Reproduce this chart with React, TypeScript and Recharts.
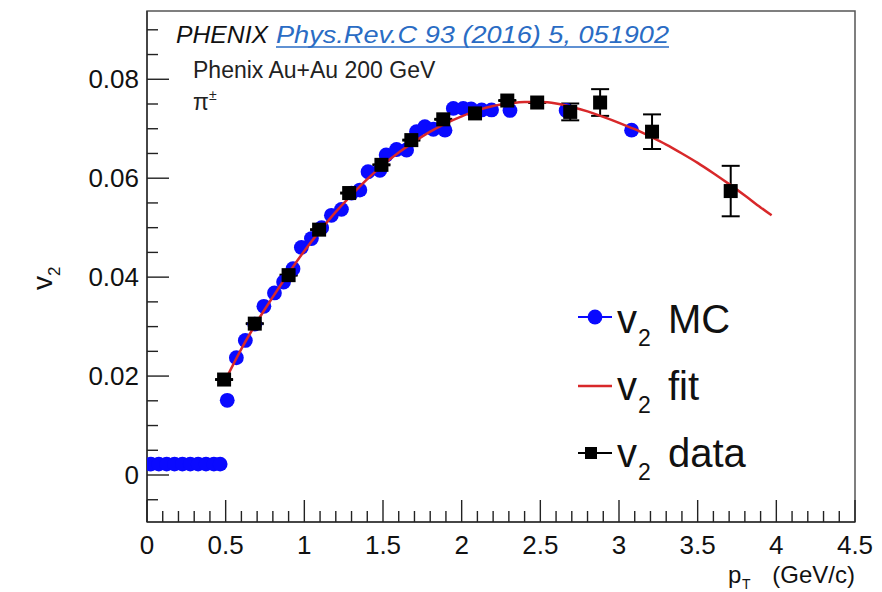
import {
  ComposedChart,
  Scatter,
  XAxis,
  YAxis,
  ErrorBar,
  ReferenceArea,
} from "recharts";

// MC points (pT, v2)
const MC_PT = [
  0.025, 0.075, 0.125, 0.175, 0.225, 0.275, 0.325, 0.375, 0.425, 0.465,
  0.51, 0.568, 0.625, 0.685, 0.743, 0.81, 0.868, 0.928, 0.981, 1.045,
  1.11, 1.172, 1.236, 1.3, 1.353, 1.405, 1.48, 1.52, 1.586, 1.65,
  1.713, 1.766, 1.82, 1.894, 1.947, 2.01, 2.06, 2.127, 2.19, 2.307,
  2.664, 3.08,
];
const MC_V2 = [
  0.0022, 0.0022, 0.0022, 0.0022, 0.0022, 0.0022, 0.0022, 0.0022, 0.0022, 0.0022,
  0.0151, 0.0237, 0.0272, 0.0305, 0.0341, 0.0368, 0.039, 0.0417, 0.046, 0.0478,
  0.05, 0.0525, 0.0537, 0.057, 0.0576, 0.0613, 0.0616, 0.0647, 0.0658, 0.0657,
  0.0694, 0.0704, 0.0699, 0.0697, 0.0741, 0.0741, 0.074, 0.0738, 0.0738, 0.0737,
  0.0737, 0.0697,
];

// PHENIX data
const DATA_PT = [0.49, 0.685, 0.9, 1.094, 1.285, 1.49, 1.68, 1.883, 2.085, 2.29, 2.48, 2.69, 2.88, 3.21, 3.71];
const DATA_V2 = [0.0193, 0.0306, 0.0404, 0.0496, 0.057, 0.0627, 0.0677, 0.0719, 0.0731, 0.0757, 0.0753, 0.0734, 0.0753, 0.0694, 0.0574];
const DATA_ERR = [0.0001, 0.0001, 0.0001, 0.0001, 0.0001, 0.0001, 0.0001, 0.0001, 0.0001, 0.0001, 0.0001, 0.0017, 0.0027, 0.0035, 0.0051];

// fit curve
const FIT_PT = [
  0.5, 0.6, 0.7, 0.8, 0.9, 1.0, 1.1, 1.2, 1.3, 1.4, 1.5, 1.6, 1.7, 1.8, 1.9, 2.0,
  2.1, 2.2, 2.3, 2.4, 2.5, 2.6, 2.7, 2.8, 2.9, 3.0, 3.1, 3.2, 3.3, 3.4, 3.5, 3.6,
  3.7, 3.8, 3.9, 3.97,
];
const FIT_V2 = [
  0.0193, 0.0255, 0.031, 0.036, 0.0408, 0.0453, 0.0494, 0.0532, 0.0566, 0.0598,
  0.0627, 0.0652, 0.0674, 0.0694, 0.0711, 0.0725, 0.0737, 0.0746, 0.0751, 0.0754,
  0.0754, 0.0751, 0.0744, 0.0735, 0.0724, 0.0712, 0.0699, 0.0684, 0.0668, 0.065,
  0.0631, 0.061, 0.0588, 0.0565, 0.0541, 0.0525,
];

const X_TICKS = [
  0, 0.1, 0.2, 0.3, 0.4, 0.5, 0.6, 0.7, 0.8, 0.9, 1, 1.1, 1.2, 1.3, 1.4, 1.5,
  1.6, 1.7, 1.8, 1.9, 2, 2.1, 2.2, 2.3, 2.4, 2.5, 2.6, 2.7, 2.8, 2.9, 3, 3.1,
  3.2, 3.3, 3.4, 3.5, 3.6, 3.7, 3.8, 3.9, 4, 4.1, 4.2, 4.3, 4.4, 4.5,
];
const Y_TICKS = [
  -0.005, 0, 0.005, 0.01, 0.015, 0.02, 0.025, 0.03, 0.035, 0.04, 0.045, 0.05,
  0.055, 0.06, 0.065, 0.07, 0.075, 0.08, 0.085, 0.09,
];
const X_DOMAIN = [0, 4.5];
const Y_DOMAIN = [-0.0095, 0.0938];

const FONT = "'Liberation Sans', Arial, Helvetica, sans-serif";
const BLUE = "#0a0aff";
const RED = "#d8282a";

const mc = MC_PT.map((pt, i) => ({ pt, v2: MC_V2[i] }));
const data = DATA_PT.map((pt, i) => ({ pt, v2: DATA_V2[i], err: DATA_ERR[i] }));
const fit = FIT_PT.map((pt, i) => ({ pt, v2: FIT_V2[i] }));

const isMult = (v: number, step: number) => Math.abs(v / step - Math.round(v / step)) < 1e-6;

const XTick = (props: any) => {
  const { x, y, payload } = props;
  const v = payload.value;
  const major = isMult(v, 0.5);
  return (
    <g>
      <line x1={x} x2={x} y1={y} y2={y - (major ? 22 : 11)} stroke="#222" strokeWidth={1.4} />
      {major && (
        <text x={x} y={y + 32} textAnchor="middle" fontSize={26} fontFamily={FONT} fill="#111">
          {String(v)}
        </text>
      )}
    </g>
  );
};

const YTick = (props: any) => {
  const { x, y, payload } = props;
  const v = payload.value;
  const major = isMult(v, 0.02);
  return (
    <g>
      <line x1={x} x2={x + (major ? 22 : 11)} y1={y} y2={y} stroke="#222" strokeWidth={1.4} />
      {major && (
        <text x={x - 8} y={y + 9} textAnchor="end" fontSize={26} fontFamily={FONT} fill="#111">
          {String(v)}
        </text>
      )}
    </g>
  );
};

const Circle = (props: any) => <circle cx={props.cx} cy={props.cy} r={7.4} fill={BLUE} />;
const Square = (props: any) => (
  <rect x={props.cx - 7} y={props.cy - 7} width={14} height={14} fill="#000" />
);
const NoDot = () => null;

export default function App() {
  return (
    <div style={{ position: "absolute", left: 0, top: 0, width: 882, height: 592, background: "#fff" }}>
      <ComposedChart width={882} height={592} margin={{ top: 11, right: 27, bottom: 0, left: 0 }}>
        <XAxis
          dataKey="pt"
          type="number"
          domain={X_DOMAIN}
          ticks={X_TICKS}
          interval={0}
          tickSize={0}
          tickMargin={0}
          tickLine={false}
          tick={<XTick />}
          height={70}
          axisLine={{ stroke: "#333", strokeWidth: 1.5 }}
          allowDataOverflow
        />
        <YAxis
          dataKey="v2"
          type="number"
          domain={Y_DOMAIN}
          ticks={Y_TICKS}
          interval={0}
          tickSize={0}
          tickMargin={0}
          tickLine={false}
          tick={<YTick />}
          width={147}
          axisLine={{ stroke: "#333", strokeWidth: 1.5 }}
          allowDataOverflow
        />
        <ReferenceArea
          x1={X_DOMAIN[0]}
          x2={X_DOMAIN[1]}
          y1={Y_DOMAIN[0]}
          y2={Y_DOMAIN[1]}
          fill="none"
          stroke="#555"
          strokeWidth={1.5}
        />
        <Scatter data={mc} dataKey="v2" shape={<Circle />} isAnimationActive={false} />
        <Scatter
          data={fit}
          dataKey="v2"
          shape={<NoDot />}
          line={{ stroke: RED, strokeWidth: 2.5 }}
          lineJointType="monotone"
          isAnimationActive={false}
        />
        <Scatter data={data} dataKey="v2" shape={<Square />} isAnimationActive={false}>
          <ErrorBar dataKey="err" direction="y" width={9} stroke="#000" strokeWidth={2} isAnimationActive={false} />
        </Scatter>
      </ComposedChart>

      <svg
        width={882}
        height={592}
        style={{ position: "absolute", left: 0, top: 0, pointerEvents: "none" }}
        fontFamily={FONT}
      >
        {/* header */}
        <text x={176} y={43} fontSize={24} fontStyle="italic" fill="#111" textLength={92} lengthAdjust="spacingAndGlyphs">
          PHENIX
        </text>
        <text x={276} y={43} fontSize={24} fontStyle="italic" fill="#2a6cc4" textLength={393} lengthAdjust="spacingAndGlyphs">
          Phys.Rev.C 93 (2016) 5, 051902
        </text>
        <line x1={276} x2={669} y1={47} y2={47} stroke="#2a6cc4" strokeWidth={1.5} />
        <text x={193} y={78} fontSize={23} fill="#222">Phenix Au+Au 200 GeV</text>
        <text x={193} y={110} fontSize={23} fill="#222">
          π<tspan fontSize={14} dy={-10}>±</tspan>
        </text>

        {/* legend */}
        <line x1={578} x2={612} y1={317} y2={317} stroke={BLUE} strokeWidth={2} />
        <circle cx={595} cy={317} r={7.4} fill={BLUE} />
        <line x1={578} x2={612} y1={386} y2={386} stroke={RED} strokeWidth={2.5} />
        <line x1={578} x2={612} y1={453} y2={453} stroke="#000" strokeWidth={2} />
        <rect x={585} y={447} width={12} height={12} fill="#000" />
        {[
          { y: 333, t: "MC" },
          { y: 400, t: "fit" },
          { y: 467, t: "data" },
        ].map((r) => (
          <g key={r.t}>
            <text x={617} y={r.y} fontSize={40} fill="#111">v</text>
            <text x={638} y={r.y + 13} fontSize={23} fill="#111">2</text>
            <text x={668} y={r.y} fontSize={40} fill="#111">{r.t}</text>
          </g>
        ))}

        {/* axis titles */}
        <text x={728} y={583} fontSize={24} fill="#111">p</text>
        <text x={742} y={589} fontSize={14} fill="#111">T</text>
        <text x={855} y={583} fontSize={24} fill="#111" textAnchor="end">(GeV/c)</text>
        <g transform="translate(52, 290) rotate(-90)">
          <text x={0} y={0} fontSize={28} fill="#111">v</text>
          <text x={14} y={8} fontSize={17} fill="#111">2</text>
        </g>
      </svg>
    </div>
  );
}
